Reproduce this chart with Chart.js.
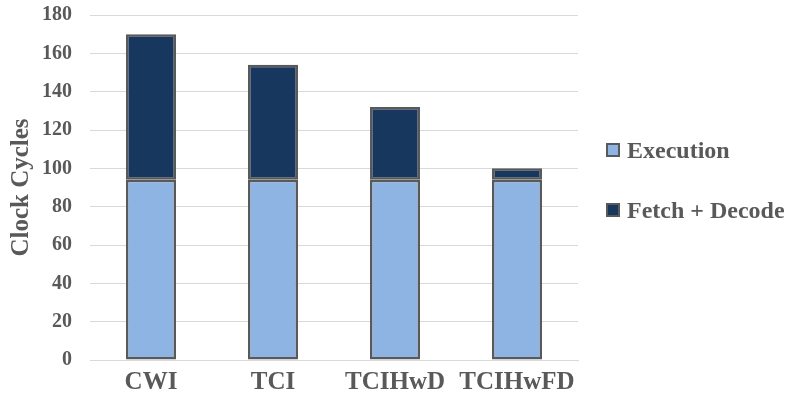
<!DOCTYPE html>
<html>
<head>
<meta charset="utf-8">
<script src="https://cdn.jsdelivr.net/npm/chart.js@4/dist/chart.umd.min.js"></script>
<style>
  html, body { margin: 0; padding: 0; background: #ffffff; }
  #wrap { position: relative; width: 792px; height: 403px; }
  #legend {
    position: absolute; left: 606px; top: 136px;
    font-family: 'Liberation Serif', 'Times New Roman', serif;
    font-weight: bold; font-size: 24px; color: #595959;
  }
  #legend .item { display: flex; align-items: center; height: 28px; margin-bottom: 32px; white-space: nowrap; }
  #legend .box {
    width: 10px; height: 10px; border: 2px solid #595959;
    margin-right: 7px; flex: none;
  }
</style>
</head>
<body>
<div id="wrap">
  <canvas id="c" width="792" height="403"></canvas>
  <div id="legend"></div>
</div>
<script>
const categories = ['CWI', 'TCI', 'TCIHwD', 'TCIHwFD'];
const execution = [94, 94, 94, 94];
const fetchDecode = [76, 60, 38, 6];
const yTicks = [0, 20, 40, 60, 80, 100, 120, 140, 160, 180];

const textColor = '#595959';
const gridColor = '#d9d9d9';
const serif = "'Liberation Serif', 'Times New Roman', serif";

// Legend rendered as HTML next to the canvas, built from the datasets
const htmlLegend = {
  id: 'htmlLegend',
  afterUpdate(chart) {
    const host = document.getElementById('legend');
    host.innerHTML = '';
    chart.data.datasets.forEach(ds => {
      const item = document.createElement('div');
      item.className = 'item';
      const box = document.createElement('span');
      box.className = 'box';
      box.style.background = ds.backgroundColor;
      const label = document.createElement('span');
      label.textContent = ds.label;
      item.appendChild(box);
      item.appendChild(label);
      host.appendChild(item);
    });
  }
};

new Chart(document.getElementById('c'), {
  type: 'bar',
  data: {
    labels: categories,
    datasets: [
      {
        label: 'Execution',
        data: execution,
        backgroundColor: '#8eb4e3',
        borderColor: '#595959',
        borderWidth: 2.5,
        borderSkipped: false,
        barPercentage: 0.41,
        categoryPercentage: 1.0
      },
      {
        label: 'Fetch + Decode',
        data: fetchDecode,
        backgroundColor: '#17375e',
        borderColor: '#595959',
        borderWidth: 2.5,
        borderSkipped: false,
        barPercentage: 0.41,
        categoryPercentage: 1.0
      }
    ]
  },
  plugins: [htmlLegend],
  options: {
    responsive: false,
    animation: false,
    layout: { padding: { top: 15, right: 214, left: 0, bottom: -2 } },
    plugins: {
      tooltip: { enabled: false },
      legend: { display: false }
    },
    scales: {
      x: {
        stacked: true,
        grid: { display: false, drawTicks: false },
        border: { display: true, color: gridColor, width: 1 },
        ticks: {
          color: textColor,
          font: { family: serif, size: 25, weight: 'bold', lineHeight: 1 },
          padding: 10
        }
      },
      y: {
        stacked: true,
        min: 0,
        max: 180,
        afterBuildTicks(scale) {
          scale.ticks = yTicks.map(v => ({ value: v }));
        },
        afterFit(scale) {
          scale.width = 90;
        },
        grid: { color: gridColor, lineWidth: 1, drawTicks: true, tickLength: 15, tickColor: 'rgba(0,0,0,0)' },
        border: { display: false },
        ticks: {
          color: textColor,
          font: { family: serif, size: 20, weight: 'bold' },
          padding: 3
        },
        title: {
          display: true,
          text: 'Clock Cycles',
          color: textColor,
          font: { family: serif, size: 25, weight: 'bold' },
          padding: { top: 7, bottom: 0 }
        }
      }
    }
  }
});
</script>
</body>
</html>
